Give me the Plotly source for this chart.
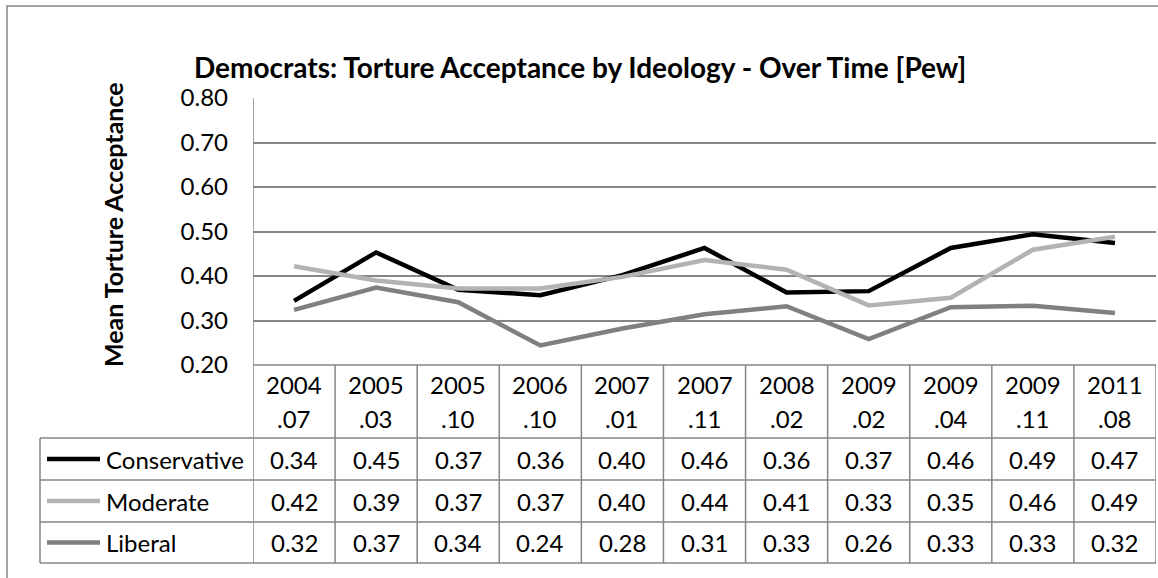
import plotly.graph_objects as go

W, H = 1158, 578

# survey waves (year.month)
periods = ["2004.07", "2005.03", "2005.10", "2006.10", "2007.01", "2007.11",
           "2008.02", "2009.02", "2009.04", "2009.11", "2011.08"]
conservative = [0.344, 0.453, 0.369, 0.357, 0.402, 0.463, 0.363, 0.366, 0.463, 0.494, 0.474]
moderate = [0.422, 0.390, 0.372, 0.372, 0.398, 0.436, 0.414, 0.334, 0.351, 0.459, 0.488]
liberal = [0.324, 0.374, 0.341, 0.244, 0.282, 0.314, 0.332, 0.258, 0.330, 0.333, 0.317]

series_names = ["Conservative", "Moderate", "Liberal"]
series_values = [conservative, moderate, liberal]
series_colors = ["#000000", "#b3b3b3", "#808080"]

FONT = "Lato, Calibri, sans-serif"
GRID = "#868686"
FS = 24


def px(x):
    return x / W


def py(y):
    return 1 - y / H


fig = go.Figure()
for name, vals, col in zip(series_names, series_values, series_colors):
    fig.add_trace(go.Scatter(x=periods, y=vals, mode="lines", name=name,
                             line=dict(color=col, width=4.5),
                             showlegend=False))

shapes = []
annots = []

# outer chart border
shapes.append(dict(type="rect", xref="paper", yref="paper",
                   x0=px(7), x1=px(1170), y0=py(6), y1=py(600),
                   line=dict(color=GRID, width=1.5)))

# data table geometry (pixels)
head_top = 365
row_edges = [438, 480, 522, 563]
leg_left = 40
n = len(periods)
line_style = dict(color=GRID, width=1.5)

# horizontal table lines
shapes.append(dict(type="line", xref="x", yref="paper", x0=-0.5, x1=n - 0.5,
                   y0=py(head_top), y1=py(head_top), line=line_style))
for y in row_edges:
    shapes.append(dict(type="line", xref="paper", yref="paper", x0=px(leg_left), x1=px(1156),
                       y0=py(y), y1=py(y), line=line_style))
# vertical lines
shapes.append(dict(type="line", xref="paper", yref="paper", x0=px(leg_left), x1=px(leg_left),
                   y0=py(row_edges[0]), y1=py(row_edges[-1]), line=line_style))
shapes.append(dict(type="line", xref="x", yref="paper", x0=-0.5, x1=-0.5,
                   y0=py(98), y1=py(row_edges[-1]), line=line_style))
for i in range(n):
    shapes.append(dict(type="line", xref="x", yref="paper", x0=i + 0.5, x1=i + 0.5,
                       y0=py(head_top), y1=py(row_edges[-1]), line=line_style))

txt_font = dict(size=FS, color="#000000", family=FONT)

# header cells: year on first line, month on second
for i, p in enumerate(periods):
    yr, mo = p.split(".")
    annots.append(dict(x=i, y=py(384), xref="x", yref="paper", text=yr,
                       xanchor="center", yanchor="middle", showarrow=False, font=txt_font))
    annots.append(dict(x=i, y=py(418), xref="x", yref="paper", text="." + mo,
                       xanchor="center", yanchor="middle", showarrow=False, font=txt_font))

# value rows + legend keys
for r, (name, vals, col) in enumerate(zip(series_names, series_values, series_colors)):
    yc = (row_edges[r] + row_edges[r + 1]) / 2
    shapes.append(dict(type="line", xref="paper", yref="paper", x0=px(47), x1=px(100),
                       y0=py(yc), y1=py(yc), line=dict(color=col, width=4.5)))
    annots.append(dict(x=px(104), y=py(yc), xref="paper", yref="paper", text=name,
                       xanchor="left", yanchor="middle", showarrow=False, font=txt_font))
    for i, v in enumerate(vals):
        annots.append(dict(x=i, y=py(yc), xref="x", yref="paper", text=f"{v:.2f}",
                           xanchor="center", yanchor="middle", showarrow=False,
                           font=txt_font))

# titles
annots.append(dict(x=px(580), y=py(67), xref="paper", yref="paper",
                   text="<b>Democrats: Torture Acceptance by Ideology - Over Time [Pew]</b>",
                   xanchor="center", yanchor="middle", showarrow=False,
                   font=dict(size=28, color="#000000", family=FONT)))
annots.append(dict(x=px(113), y=py(225), xref="paper", yref="paper",
                   text="<b>Mean Torture Acceptance</b>", textangle=-90,
                   xanchor="center", yanchor="middle", showarrow=False,
                   font=dict(size=25, color="#000000", family=FONT)))

fig.update_layout(
    template="none",
    width=W, height=H,
    margin=dict(l=0, r=0, t=0, b=0),
    paper_bgcolor="#ffffff",
    plot_bgcolor="#ffffff",
    font=dict(family=FONT, color="#000000", size=FS),
    shapes=shapes,
    annotations=annots,
    xaxis=dict(type="category", domain=[px(253), px(1156)], range=[-0.5, n - 0.5],
               showticklabels=False, showgrid=False, zeroline=False, showline=False,
               automargin=False, fixedrange=True),
    yaxis=dict(domain=[py(365), py(98)], range=[0.2, 0.8], dtick=0.1, tick0=0.2,
               tickformat=".2f", showgrid=True, gridcolor=GRID, gridwidth=1.5,
               zeroline=False, showline=False, ticks="", ticklabelstandoff=24,
               automargin=False,
               tickfont=dict(size=FS, color="#000000", family=FONT), fixedrange=True),
)

# drop the browser's default body margin so the figure sits at the page origin
fig.write_html("out.html", config={"displayModeBar": False},
               post_script="document.body.style.margin='0px';")
